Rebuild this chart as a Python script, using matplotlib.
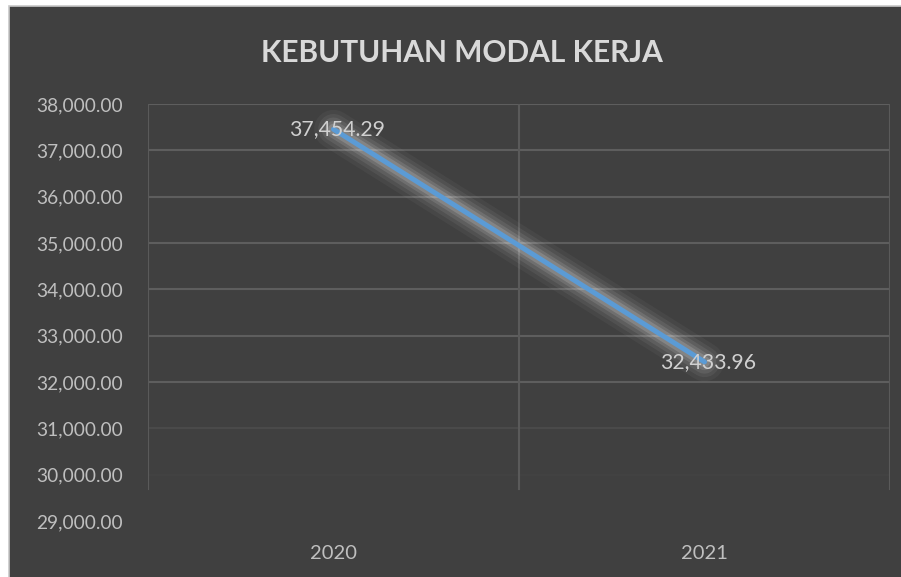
import matplotlib
matplotlib.use("Agg")
import matplotlib.pyplot as plt
from matplotlib.patches import Rectangle
from matplotlib.ticker import FuncFormatter

categories = ["2020", "2021"]
values = [37454.29, 32433.96]
y_ticks = [29000, 30000, 31000, 32000, 33000, 34000, 35000, 36000, 37000, 38000]
title = "KEBUTUHAN MODAL KERJA"

W, H = 901, 577
fig = plt.figure(figsize=(W / 100, H / 100), dpi=100)
fig.patch.set_facecolor("white")
bg = "#404040"
# dark chart area with thin light border on top/left (cropped on right/bottom)
fig.patches.append(Rectangle((9 / W, -0.05), 1.1, 1.05 - 6 / H, transform=fig.transFigure,
                             facecolor=bg, edgecolor="#c8c8c8", linewidth=1.2, zorder=-5))

ax = fig.add_axes([148 / W, 1 - 521 / H, (890 - 148) / W, (521 - 104) / H])
ax.set_zorder(1)
ax.set_facecolor(bg)
for s in ax.spines.values():
    s.set_visible(False)

font = "Lato"
x = list(range(len(categories)))
ax.set_xlim(-0.5, len(categories) - 0.5)
ax.set_ylim(y_ticks[0], y_ticks[-1])
ax.set_yticks(y_ticks)
ax.yaxis.set_major_formatter(FuncFormatter(lambda v, p: f"{v:,.2f}"))
ax.set_xticks(x)
ax.set_xticklabels(categories)
ax.tick_params(axis="both", which="both", length=0)
ax.tick_params(axis="y", pad=18, labelsize=13.8, labelcolor="#bfbfbf")
ax.tick_params(axis="x", pad=17, labelsize=14.5, labelcolor="#bfbfbf")
for lab in ax.get_xticklabels() + ax.get_yticklabels():
    lab.set_fontfamily(font)

# horizontal gridlines (fading near bottom like the reference)
alphas = {29000: 0.0, 30000: 0.08, 31000: 0.35}
for t in y_ticks:
    ax.axhline(t, color="#5e5e5e", lw=1.5, alpha=alphas.get(t, 1.0), zorder=1)
for xv in [-0.5, 0.5, 1.5]:
    ax.plot([xv, xv], [y_ticks[0] + 700, y_ticks[-1]], color="#5a5a5a", lw=1.5, zorder=1)

# glow
for lw, a in [(28, 0.04), (22, 0.06), (17, 0.08), (12, 0.11), (8, 0.15)]:
    ax.plot(x, values, color="white", lw=lw, alpha=a, solid_capstyle="round", zorder=2)
ax.plot(x, values, color="#5b9bd5", lw=3.6, solid_capstyle="round", zorder=3)

for xi, v in zip(x, values):
    ax.text(xi + 0.01, v, f"{v:,.2f}", ha="center", va="center", fontsize=15.3,
            color="#d0d0d0", family=font, zorder=4)

fig.text(462 / W, 1 - 53 / H, title, ha="center", va="center", fontsize=21.5,
         fontweight="bold", color="#d9d9d9", family=font)

fig.savefig("out.png", dpi=100, facecolor=fig.get_facecolor())
